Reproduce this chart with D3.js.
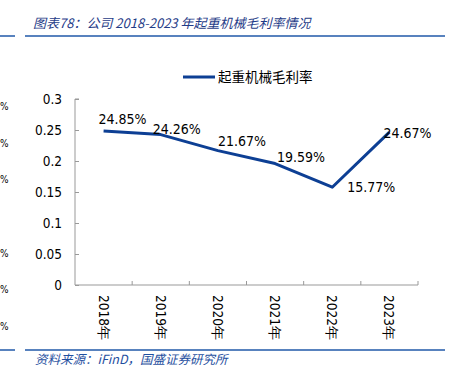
<!DOCTYPE html>
<html>
<head>
<meta charset="utf-8">
<script src="https://cdn.jsdelivr.net/npm/d3@7"></script>
<style>
  body { margin: 0; background: #fff; }
  svg { display: block; }
  .num { font-family: "DejaVu Sans", "Liberation Sans", sans-serif; font-stretch: condensed; fill: #000; }
  .cjk { font-family: "Noto Sans CJK SC", sans-serif; }
</style>
</head>
<body>
<div id="chart"></div>
<script>
// data
const years = ['2018年', '2019年', '2020年', '2021年', '2022年', '2023年'];
const margin = [0.2485, 0.2426, 0.2167, 0.1959, 0.1577, 0.2467];
const labels = ['24.85%', '24.26%', '21.67%', '19.59%', '15.77%', '24.67%'];
const yTicks = [0, 0.05, 0.1, 0.15, 0.2, 0.25, 0.3];
const seriesName = '起重机械毛利率';
const title = '图表78：公司 2018-2023 年起重机械毛利率情况';
const source = '资料来源：iFinD，国盛证券研究所';
// label nudges relative to the point (left edge dx, centre dy), as placed in the original
const labelNudge = [[-5, -12], [-8, -6], [0, -10], [2, -7], [15, 0], [-6, 1]];

const W = 451, H = 377;
const blue = '#0d3f94';
const svg = d3.select('#chart').append('svg')
  .attr('width', W)
  .attr('height', H);

// plot area
const plot = { left: 75, right: 418, top: 99, bottom: 285 };

const x = d3.scaleBand()
  .domain(years)
  .range([plot.left, plot.right]);

const y = d3.scaleLinear()
  .domain([0, 0.3])
  .range([plot.bottom, plot.top]);

// header / footer rules
[36, 350].forEach(yy => {
  svg.append('line').attr('x1', 0).attr('x2', 15).attr('y1', yy).attr('y2', yy)
    .attr('stroke', '#2058a8').attr('stroke-width', 1.5);
  svg.append('line').attr('x1', 25).attr('x2', 445).attr('y1', yy).attr('y2', yy)
    .attr('stroke', '#2058a8').attr('stroke-width', 1.5);
});

svg.append('text')
  .attr('class', 'cjk')
  .attr('x', 33).attr('y', 28)
  .attr('font-size', 13)
  .attr('font-style', 'italic')
  .attr('fill', '#1f3c88')
  .text(title);

svg.append('text')
  .attr('class', 'cjk')
  .attr('x', 35).attr('y', 364)
  .attr('font-size', 12.5)
  .attr('font-style', 'italic')
  .attr('fill', '#1f4fa0')
  .text(source);

// percent signs left over from the neighbouring chart on the far left
[105, 142, 178, 252, 288, 325].forEach(yy => {
  svg.append('text')
    .attr('class', 'num')
    .attr('x', 0).attr('y', yy + 5)
    .attr('font-size', 10)
    .attr('fill', '#000')
    .text('%');
});

// y axis
const yAxis = d3.axisRight(y)
  .tickValues(yTicks)
  .tickSize(4)
  .tickFormat(d => d3.format('')(+d.toFixed(2)));

const yG = svg.append('g')
  .attr('transform', `translate(${plot.left},0)`)
  .call(yAxis);
yG.select('.domain').attr('stroke', '#999').attr('d', `M4,${plot.top}H0V${plot.bottom}`);
yG.selectAll('.tick line').attr('stroke', '#999');
yG.selectAll('.tick text')
  .attr('class', 'num')
  .attr('x', -13)
  .attr('text-anchor', 'end')
  .attr('font-size', 13.5)
  .attr('fill', '#000');

// x axis, ticks on category boundaries pointing up
const bounds = years.map(d => x(d)).concat([plot.right]);
const xG = svg.append('g');
xG.append('line')
  .attr('x1', plot.left).attr('x2', plot.right)
  .attr('y1', plot.bottom).attr('y2', plot.bottom)
  .attr('stroke', '#999');
xG.selectAll('line.tk')
  .data(bounds.slice(1))
  .join('line')
  .attr('class', 'tk')
  .attr('x1', d => d).attr('x2', d => d)
  .attr('y1', plot.bottom).attr('y2', plot.bottom - 4)
  .attr('stroke', '#999');
xG.selectAll('text')
  .data(years)
  .join('text')
  .attr('class', 'num')
  .attr('font-size', 13.5)
  .attr('transform', d => `translate(${x(d) + x.bandwidth() / 2 - 5},${plot.bottom + 10}) rotate(90)`)
  .attr('text-anchor', 'start')
  .text(d => d);

// line
const line = d3.line()
  .x((d, i) => x(years[i]) + x.bandwidth() / 2)
  .y(d => y(d));

svg.append('path')
  .datum(margin)
  .attr('fill', 'none')
  .attr('stroke', blue)
  .attr('stroke-width', 3)
  .attr('stroke-linejoin', 'round')
  .attr('d', line);

// data labels
svg.selectAll('text.lbl')
  .data(margin)
  .join('text')
  .attr('class', 'num lbl')
  .attr('font-size', 14)
  .attr('x', (d, i) => x(years[i]) + x.bandwidth() / 2 + labelNudge[i][0])
  .attr('y', (d, i) => y(d) + labelNudge[i][1] + 5)
  .text((d, i) => labels[i]);

// legend
svg.append('line')
  .attr('x1', 183).attr('x2', 215)
  .attr('y1', 77).attr('y2', 77)
  .attr('stroke', blue)
  .attr('stroke-width', 3);
svg.append('text')
  .attr('class', 'cjk')
  .attr('x', 218).attr('y', 82)
  .attr('font-size', 13.5)
  .attr('fill', '#000')
  .text(seriesName);
</script>
</body>
</html>
